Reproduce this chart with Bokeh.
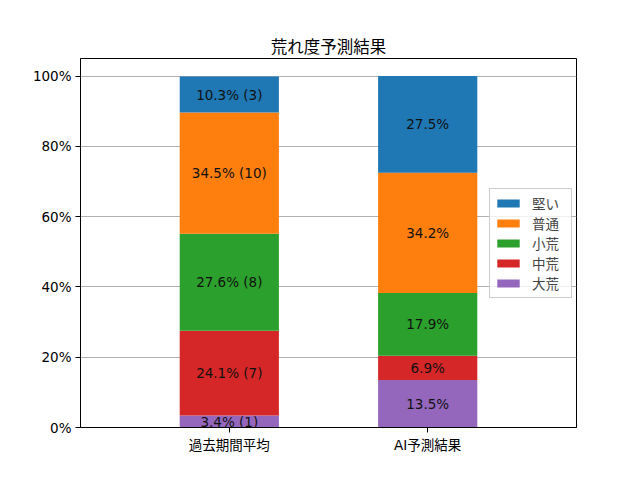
from bokeh.plotting import figure
from bokeh.models import ColumnDataSource, Legend, LegendItem, FixedTicker, PrintfTickFormatter, Range1d
from bokeh.core.properties import value
from bokeh.embed import file_html
from bokeh.resources import INLINE

categories = ["過去期間平均", "AI予測結果"]
series = ["大荒", "中荒", "小荒", "普通", "堅い"]
colors = ["#9467bd", "#d62728", "#2ca02c", "#ff7f0e", "#1f77b4"]
past_pct = [3.4, 24.1, 27.6, 34.5, 10.3]
past_cnt = [1, 7, 8, 10, 3]
ai_pct = [13.5, 6.9, 17.9, 34.2, 27.5]
yticks = [0, 20, 40, 60, 80, 100]

FONT = 'DejaVu Sans, "Noto Sans CJK JP"'

xs = [0, 1]
data = {"x": xs}
for s, a, b in zip(series, past_pct, ai_pct):
    data[s] = [a, b]
src = ColumnDataSource(data)

p = figure(output_backend="svg", toolbar_location=None,
           frame_width=496, frame_height=369,
           x_range=Range1d(-0.75, 1.75), y_range=Range1d(0, 105),
           title="荒れ度予測結果")
p.min_border_left = 80
p.min_border_right = 64
p.min_border_top = 58
p.min_border_bottom = 53
p.background_fill_color = "white"
p.border_fill_color = "white"
p.outline_line_color = "black"
p.outline_line_width = 1

p.title.align = "center"
p.title.text_font = FONT
p.title.text_font_size = "16.5px"
p.title.text_font_style = "normal"
p.title.text_color = "black"
p.title.standoff = 4

rs = p.vbar_stack(series, x="x", width=0.5, source=src, color=colors, line_color=None)

# labels
lx, ly, lt = [], [], []
cum = [0.0, 0.0]
for i, s in enumerate(series):
    vals = [past_pct[i], ai_pct[i]]
    for j in range(2):
        mid = cum[j] + vals[j] / 2
        cum[j] += vals[j]
        lx.append(xs[j])
        ly.append(mid)
        if j == 0:
            lt.append(f"{past_pct[i]:.1f}% ({past_cnt[i]})")
        else:
            lt.append(f"{ai_pct[i]:.1f}%")
lsrc = ColumnDataSource(dict(x=lx, y=ly, t=lt))
p.text(x="x", y="y", text="t", source=lsrc, text_align="center", text_baseline="middle",
       text_font=value(FONT), text_font_size="13.5px", text_color="#111111")

p.xgrid.visible = False
p.ygrid.grid_line_color = "#b0b0b0"
p.ygrid.grid_line_width = 1
p.ygrid.ticker = FixedTicker(ticks=yticks)

for ax in (p.xaxis[0], p.yaxis[0]):
    ax.axis_line_color = "black"
    ax.major_tick_in = 0
    ax.major_tick_out = 5
    ax.minor_tick_line_color = None
    ax.major_label_text_font = FONT
    ax.major_label_text_font_size = "13.5px"
    ax.major_label_text_color = "black"
    ax.major_label_standoff = 4

p.xaxis.ticker = FixedTicker(ticks=xs)
p.xaxis.major_label_overrides = {0: categories[0], 1: categories[1]}
p.yaxis.ticker = FixedTicker(ticks=yticks)
p.yaxis.formatter = PrintfTickFormatter(format="%d%%")

items = [LegendItem(label=series[i], renderers=[rs[i]]) for i in reversed(range(len(series)))]
legend = Legend(items=items, location="right", margin=4, padding=4, spacing=0,
                label_height=18, label_width=35, glyph_height=10, glyph_width=28, label_standoff=10,
                label_text_font=FONT, label_text_font_size="13.5px",
                border_line_color="#cccccc", border_line_alpha=1.0,
                background_fill_alpha=0.8)
p.add_layout(legend, "center")

open("out.html", "w").write(file_html(p, INLINE))
